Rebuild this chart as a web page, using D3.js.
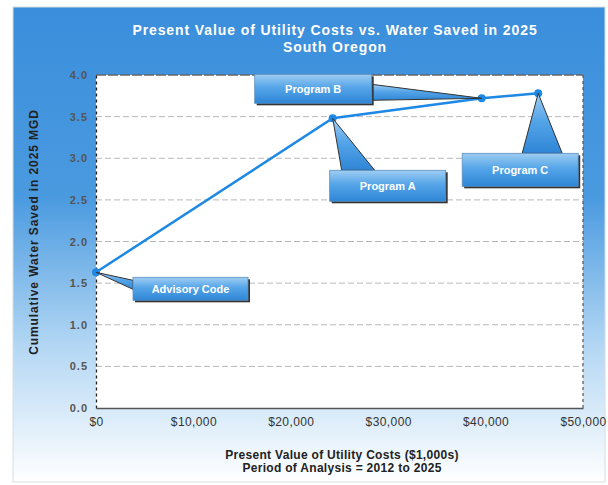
<!DOCTYPE html>
<html>
<head>
<meta charset="utf-8">
<script src="https://cdn.jsdelivr.net/npm/d3@7"></script>
<style>
  html, body { margin: 0; padding: 0; background: #ffffff; }
  svg { display: block; font-family: Arial, "Liberation Sans", sans-serif; }
</style>
</head>
<body>
<svg id="chart" width="608" height="485"></svg>
<script>
// Programs compared, their utility cost (PV, $1,000s) and water saved (MGD)
const programs = ["Advisory Code", "Program A", "Program B", "Program C"];
const costs = [0, 24300, 39600, 45400];
const savings = [1.63, 3.48, 3.72, 3.78];

const xTicks = [0, 10000, 20000, 30000, 40000, 50000];
const yTicks = [0, 0.5, 1.0, 1.5, 2.0, 2.5, 3.0, 3.5, 4.0];

const titleLines = ["Present Value of Utility Costs vs. Water Saved in 2025", "South Oregon"];
const xTitleLines = ["Present Value of Utility Costs ($1,000s)", "Period of Analysis = 2012 to 2025"];
const yTitle = "Cumulative Water Saved in 2025 MGD";

// Callout layout: box offset from its point and which side the pointer leaves from
const callouts = [
  { dx: 37,  dy: 5,   w: 115, h: 23, side: "left",  a: 3,  b: 12 },
  { dx: -3,  dy: 52,  w: 116, h: 31, side: "top",   a: 12, b: 45 },
  { dx: -227, dy: -24, w: 117, h: 29, side: "right", a: 10, b: 26 },
  { dx: -76, dy: 60,  w: 116, h: 33, side: "top",   a: 60, b: 100 }
];

const svg = d3.select("#chart");
const defs = svg.append("defs");

const bg = defs.append("linearGradient").attr("id", "bg").attr("x1", 0).attr("y1", 0).attr("x2", 0).attr("y2", 1);
bg.append("stop").attr("offset", "0%").attr("stop-color", "#3a8edb");
bg.append("stop").attr("offset", "40%").attr("stop-color", "#4a9ae0");
bg.append("stop").attr("offset", "72%").attr("stop-color", "#b5d8f4");
bg.append("stop").attr("offset", "100%").attr("stop-color", "#ffffff");

const boxGrad = defs.append("linearGradient").attr("id", "boxg").attr("x1", 0).attr("y1", 0).attr("x2", 0).attr("y2", 1);
boxGrad.append("stop").attr("offset", "0%").attr("stop-color", "#9fcdf2");
boxGrad.append("stop").attr("offset", "45%").attr("stop-color", "#55a5e8");
boxGrad.append("stop").attr("offset", "100%").attr("stop-color", "#2f86d6");

// Chart frame
svg.append("rect").attr("x", 13).attr("y", 7).attr("width", 592).attr("height", 475)
  .attr("fill", "url(#bg)").attr("stroke", "#d6dde4").attr("stroke-width", 1);

const plot = { left: 96, right: 583, top: 75, bottom: 408 };

const x = d3.scaleLinear().domain([0, 50000]).range([plot.left, plot.right]);
const y = d3.scaleLinear().domain([0, 4]).range([plot.bottom, plot.top]);

// Plot area
svg.append("rect").attr("x", plot.left).attr("y", plot.top)
  .attr("width", plot.right - plot.left).attr("height", plot.bottom - plot.top)
  .attr("fill", "#ffffff");

// Horizontal gridlines
svg.append("g").selectAll("line").data(yTicks.filter(d => d > 0 && d < 4)).join("line")
  .attr("x1", plot.left).attr("x2", plot.right)
  .attr("y1", d => y(d)).attr("y2", d => y(d))
  .attr("stroke", "#b8b8b8").attr("stroke-width", 1).attr("stroke-dasharray", "6,3");

// Plot border
svg.append("line").attr("x1", plot.left).attr("x2", plot.right).attr("y1", plot.top).attr("y2", plot.top)
  .attr("stroke", "#666").attr("stroke-width", 1.3).attr("stroke-dasharray", "10,2");
svg.append("line").attr("x1", plot.right).attr("x2", plot.right).attr("y1", plot.top).attr("y2", plot.bottom)
  .attr("stroke", "#555").attr("stroke-width", 1.2).attr("stroke-dasharray", "3,3");

// Axes
const yAxis = svg.append("g").attr("transform", `translate(${plot.left},0)`)
  .call(d3.axisLeft(y).tickValues(yTicks).tickFormat(d3.format(".1f")).tickSize(0).tickPadding(8));
yAxis.select(".domain").attr("stroke", "#222").attr("stroke-width", 1.3).attr("stroke-dasharray", "3,3");
yAxis.selectAll("text").attr("font-size", 11).attr("fill", "#555").attr("font-weight", "bold")
  .attr("letter-spacing", 1);

const xAxis = svg.append("g").attr("transform", `translate(0,${plot.bottom})`)
  .call(d3.axisBottom(x).tickValues(xTicks).tickFormat(d => "$" + d3.format(",")(d)).tickSize(0).tickPadding(9));
xAxis.select(".domain").attr("stroke", "#555").attr("stroke-width", 1.5);
xAxis.selectAll("text").attr("font-size", 12).attr("fill", "#333").attr("letter-spacing", 0.4);

// Data line and markers
const pts = programs.map((p, i) => ({ name: p, cx: x(costs[i]), cy: y(savings[i]), c: callouts[i] }));

svg.append("path").datum(pts)
  .attr("d", d3.line().x(d => d.cx).y(d => d.cy))
  .attr("fill", "none").attr("stroke", "#1e88e5").attr("stroke-width", 2.5);

svg.append("g").selectAll("circle").data(pts).join("circle")
  .attr("cx", d => d.cx).attr("cy", d => d.cy).attr("r", 4)
  .attr("fill", "#1e88e5");

// Callouts: pointer wedge plus box
const cg = svg.append("g").selectAll("g").data(pts).join("g");

cg.append("path")
  .attr("d", d => {
    const c = d.c, bx = d.cx + c.dx, by = d.cy + c.dy;
    let p1, p2;
    if (c.side === "left") { p1 = [bx, by + c.a]; p2 = [bx, by + c.b]; }
    else if (c.side === "right") { p1 = [bx + c.w, by + c.a]; p2 = [bx + c.w, by + c.b]; }
    else { p1 = [bx + c.a, by]; p2 = [bx + c.b, by]; }
    return `M${d.cx},${d.cy}L${p1[0]},${p1[1]}L${p2[0]},${p2[1]}Z`;
  })
  .attr("fill", "url(#boxg)").attr("stroke", "#333").attr("stroke-width", 1);

cg.append("rect")
  .attr("x", d => d.cx + d.c.dx + 2).attr("y", d => d.cy + d.c.dy + 2)
  .attr("width", d => d.c.w).attr("height", d => d.c.h)
  .attr("fill", "#333");

cg.append("rect")
  .attr("x", d => d.cx + d.c.dx).attr("y", d => d.cy + d.c.dy)
  .attr("width", d => d.c.w).attr("height", d => d.c.h)
  .attr("fill", "url(#boxg)").attr("stroke", "#5b8fbf").attr("stroke-width", 0.8);

cg.append("text")
  .attr("x", d => d.cx + d.c.dx + d.c.w / 2).attr("y", d => d.cy + d.c.dy + d.c.h / 2 + 4)
  .attr("text-anchor", "middle").attr("font-size", 11).attr("font-weight", "bold")
  .attr("fill", "#ffffff").text(d => d.name);

// Titles
svg.append("text").attr("text-anchor", "middle").attr("font-size", 14).attr("font-weight", "bold")
  .attr("fill", "#ffffff").attr("letter-spacing", 0.9)
  .selectAll("tspan").data(titleLines).join("tspan")
  .attr("x", 335).attr("y", (d, i) => 35 + i * 17).text(d => d);

svg.append("text").attr("text-anchor", "middle").attr("font-size", 12).attr("font-weight", "bold")
  .attr("fill", "#222").attr("letter-spacing", 0.3)
  .selectAll("tspan").data(xTitleLines).join("tspan")
  .attr("x", 342).attr("y", (d, i) => 459 + i * 13).text(d => d);

svg.append("text").attr("transform", "translate(38,232) rotate(-90)")
  .attr("text-anchor", "middle").attr("font-size", 12).attr("font-weight", "bold")
  .attr("fill", "#222").attr("letter-spacing", 0.9).text(yTitle);
</script>
</body>
</html>
